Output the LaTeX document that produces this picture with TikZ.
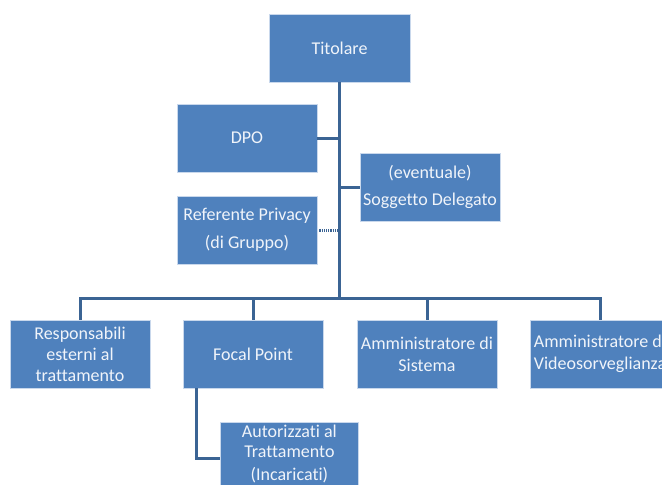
\documentclass[tikz,border=0pt]{standalone}
\usepackage{fontspec}
\setmainfont[Ligatures={NoCommon}]{Carlito}
\definecolor{boxfill}{HTML}{4F81BD}
\definecolor{boxedge}{HTML}{C9D8EC}
\definecolor{linec}{HTML}{3B6494}
\definecolor{txt}{HTML}{F0F4FA}
\begin{document}
\begin{tikzpicture}[x=1pt,y=-1pt,
  box/.style={fill=boxfill,draw=boxedge,line width=0.8pt,minimum width=140pt,minimum height=68pt,
    inner sep=0pt,align=center,text=txt,font=\fontsize{18}{21}\selectfont},
  conn/.style={draw=linec,line width=3pt}]
\useasboundingbox (0,0) rectangle (662,485);
\begin{scope}
\clip (0,0) rectangle (662,485);
\node[box,minimum width=141pt] (tit) at (339.5,48) {Titolare};
\node[box] (dpo) at (247,138) {DPO};
\node[box,font=\fontsize{18}{27}\selectfont] (sog) at (430,187) {(eventuale)\\Soggetto Delegato};
\node[box,font=\fontsize{18}{28}\selectfont] (ref) at (247,230) {Referente Privacy\\(di Gruppo)};
\node[box] (res) at (80,354) {Responsabili\\esterni al\\trattamento};
\node[box] (foc) at (253,354) {Focal Point};
\node[box,font=\fontsize{18}{22}\selectfont] (ams) at (427,354) {Amministratore di\\Sistema};
\node[box,font=\fontsize{18}{22}\selectfont] (amv) at (600,354) {Amministratore di\\Videosorveglianza};
\node[box,minimum width=138pt,anchor=north west] (aut) at (220,422) {};
\node[text=txt,font=\fontsize{18}{20}\selectfont,align=center,anchor=north,inner sep=0pt] (autt) at ([yshift=-1pt]aut.north) {\rule{0pt}{14pt}Autorizzati al\\Trattamento\\[3pt](Incaricati)};
\coordinate (bus) at (339.5,298);
\coordinate (busL) at (80,298);
\coordinate (busR) at (600,298);
\coordinate (fc) at (196,458);
\coordinate (fa) at (196,388);
\draw[conn] (tit.south) -- (bus);
\draw[conn] (dpo.east) -- (dpo.east -| bus);
\draw[conn] (sog.west) -- (sog.west -| bus);
\draw[draw=linec,line width=3pt,dash pattern=on 1.2pt off 1pt] ([xshift=2pt]ref.east) -- (ref.east -| bus);
\draw[conn,line cap=rect] (busL) -- (busR);
\draw[conn] (busL) -- (res.north);
\draw[conn] (foc.north |- bus) -- (foc.north);
\draw[conn] (ams.north |- bus) -- (ams.north);
\draw[conn] (busR) -- (amv.north);
\draw[conn] (fa) -- (fc) -- (fc -| aut.west);
\end{scope}
\end{tikzpicture}
\end{document}
